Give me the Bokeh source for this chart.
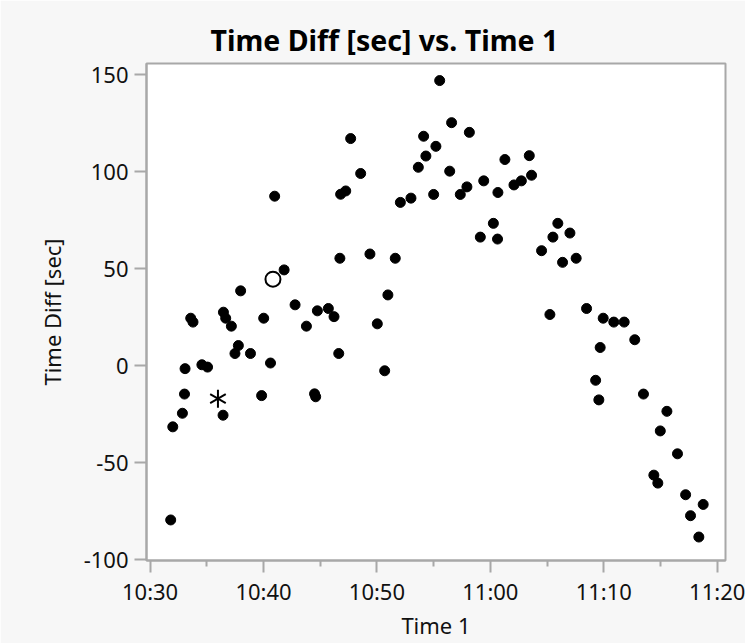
import math
import pandas as pd
from bokeh.plotting import figure
from bokeh.models import FixedTicker, DatetimeTickFormatter, Range1d, CustomJSTickFormatter
from bokeh.embed import file_html
from bokeh.resources import INLINE

DAY = "2024-01-01 "

time1 = [
    "10:31:49", "10:32:00", "10:32:51", "10:33:02", "10:33:05", "10:33:35", "10:33:47",
    "10:34:34", "10:35:04", "10:36:26", "10:36:28", "10:36:40", "10:37:10", "10:37:29",
    "10:37:47", "10:37:59", "10:38:51", "10:39:50", "10:40:01", "10:40:37", "10:40:59",
    "10:41:49", "10:42:47", "10:43:47", "10:44:30", "10:44:36", "10:44:45", "10:45:43",
    "10:46:13", "10:46:38", "10:46:44", "10:46:48", "10:47:15", "10:47:41", "10:48:34",
    "10:49:23", "10:50:02", "10:50:41", "10:50:58", "10:51:37", "10:52:04", "10:53:00",
    "10:53:39", "10:54:07", "10:54:19", "10:55:00", "10:55:12", "10:55:32", "10:56:25",
    "10:56:35", "10:57:21", "10:57:56", "10:58:09", "10:59:07", "10:59:25", "11:00:16",
    "11:00:38", "11:00:40", "11:01:17", "11:02:05", "11:02:44", "11:03:26", "11:03:38",
    "11:04:31", "11:05:15", "11:05:31", "11:05:57", "11:06:22", "11:07:01", "11:07:34",
    "11:08:29", "11:09:17", "11:09:34", "11:09:41", "11:09:57", "11:10:53", "11:11:48",
    "11:12:44", "11:13:30", "11:14:25", "11:14:46", "11:14:59", "11:15:34", "11:16:30",
    "11:17:13", "11:17:39", "11:18:23", "11:18:46",
]
time_diff = [
    -79.5, -31.5, -24.5, -14.6, -1.5, 24.5, 22.5,
    0.5, -0.7, -25.5, 27.6, 24.5, 20.4, 6.3,
    10.4, 38.6, 6.3, -15.4, 24.5, 1.4, 87.4,
    49.4, 31.4, 20.4, -14.5, -16.0, 28.3, 29.5,
    25.3, 6.3, 55.4, 88.4, 90.1, 117.1, 99.1,
    57.6, 21.6, -2.6, 36.5, 55.4, 84.2, 86.4,
    102.3, 118.3, 108.1, 88.3, 113.1, 147.0, 100.3,
    125.3, 88.3, 92.2, 120.3, 66.3, 95.3, 73.4,
    65.3, 89.3, 106.3, 93.2, 95.3, 108.3, 98.2,
    59.3, 26.4, 66.3, 73.4, 53.3, 68.4, 55.4,
    29.5, -7.5, -17.6, 9.4, 24.5, 22.5, 22.5,
    13.4, -14.6, -56.4, -60.5, -33.6, -23.5, -45.4,
    -66.5, -77.3, -88.3, -71.5,
]

hollow_time = ["10:40:50"]
hollow_diff = [44.6]
star_time = ["10:35:59"]
star_diff = [-17.0]

x_tick_labels = ["10:30", "10:40", "10:50", "11:00", "11:10", "11:20"]
x_minor_labels = ["10:35", "10:45", "10:55", "11:05", "11:15"]
y_ticks = [-100, -50, 0, 50, 100, 150]
x_range_ends = ["10:29:41", "11:20:44"]
y_range_ends = [-100.4, 155.8]


def to_ms(t):
    return pd.Timestamp(DAY + t).value / 1e6


FONT = "Noto Sans"
AXIS_GRAY = "#a8a8a8"

p = figure(
    width=745, height=643,
    x_axis_type="datetime",
    x_range=Range1d(to_ms(x_range_ends[0]), to_ms(x_range_ends[1])),
    y_range=Range1d(y_range_ends[0], y_range_ends[1]),
    output_backend="svg", toolbar_location=None,
    min_border_left=146, min_border_right=20, min_border_top=63, min_border_bottom=83,
    background_fill_color="white", border_fill_color="#f7f7f7",
    outline_line_color=AXIS_GRAY, outline_line_width=2,
)

p.title.text = "Time Diff [sec] vs. Time 1"
p.title.align = "left"
p.title.offset = 64
p.title.text_font = FONT
p.title.text_font_size = "28.5px"
p.title.text_font_style = "bold"
p.title.text_color = "black"

p.grid.visible = False

xs = [to_ms(t) for t in time1]
p.scatter(xs, time_diff, size=10, color="black", marker="circle")
p.scatter([to_ms(t) for t in hollow_time], hollow_diff, size=15, marker="circle",
          fill_color="white", line_color="black", line_width=2)
for ang in (math.pi / 2, math.pi / 6, -math.pi / 6):
    p.scatter([to_ms(t) for t in star_time], star_diff, size=18, marker="dash",
              angle=ang, line_color="black", line_width=2)

p.xaxis.ticker = FixedTicker(ticks=[to_ms(t + ":00") for t in x_tick_labels],
                             minor_ticks=[to_ms(t + ":00") for t in x_minor_labels])
fmt = "%H:%M"
p.xaxis.formatter = DatetimeTickFormatter(
    microseconds=fmt, milliseconds=fmt, seconds=fmt, minsec=fmt, minutes=fmt,
    hourmin=fmt, hours=fmt, days=fmt, months=fmt, years=fmt)
p.yaxis.ticker = FixedTicker(ticks=y_ticks, minor_ticks=[])
p.yaxis.formatter = CustomJSTickFormatter(code="return String(tick);")

p.xaxis.axis_label = "Time 1"
p.yaxis.axis_label = "Time Diff [sec]"

for ax in (p.xaxis[0], p.yaxis[0]):
    ax.axis_line_color = AXIS_GRAY
    ax.axis_line_width = 2
    ax.major_tick_line_color = AXIS_GRAY
    ax.major_tick_line_width = 2
    ax.minor_tick_line_color = AXIS_GRAY
    ax.minor_tick_line_width = 2
    ax.major_tick_out = 12
    ax.major_tick_in = 0
    ax.minor_tick_out = 6
    ax.minor_tick_in = 0
    ax.major_label_text_font = FONT
    ax.major_label_text_font_size = "22px"
    ax.major_label_text_color = "#111111"
    ax.axis_label_text_font = FONT
    ax.axis_label_text_font_size = "22px"
    ax.axis_label_text_font_style = "normal"
    ax.axis_label_text_color = "#111111"

p.xaxis.major_label_standoff = 3
p.xaxis.axis_label_standoff = 1
p.yaxis.major_label_standoff = 6
p.yaxis.axis_label_standoff = 14

open("out.html", "w").write(file_html(p, INLINE))
